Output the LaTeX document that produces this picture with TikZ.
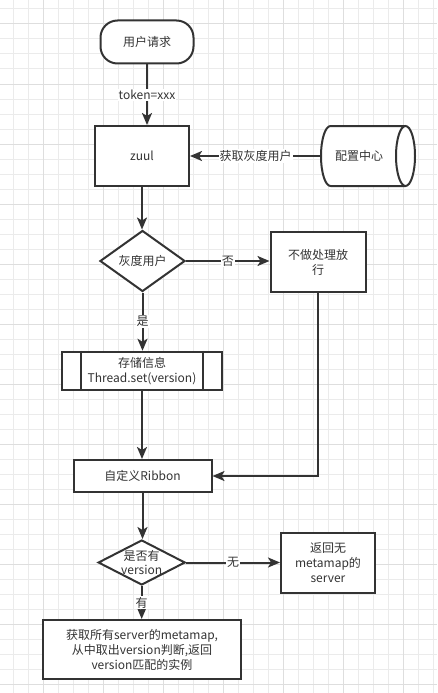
\documentclass[tikz,border=0pt]{standalone}
\usepackage{fontspec}
\setmainfont{Noto Sans CJK SC}
\usetikzlibrary{shapes.geometric,arrows.meta}
\definecolor{ink}{HTML}{333333}
\definecolor{gridminor}{HTML}{EBEBEB}
\definecolor{gridmajor}{HTML}{DEDEDE}
\begin{document}
\begin{tikzpicture}[x=1pt,y=-1pt,
  every node/.style={font=\fontsize{12}{15}\selectfont, text=ink, align=center, inner sep=0pt},
  box/.style={draw=ink, line width=2pt, fill=white, rectangle},
  dia/.style={draw=ink, line width=2pt, fill=white, diamond, aspect=1.4},
  conn/.style={draw=ink, line width=2pt, -{Stealth[length=12pt,width=10pt,inset=3pt]}},
  lbl/.style={fill=white, inner sep=1pt}
]
\useasboundingbox (0,0) rectangle (437,693);
\fill[white] (0,0) rectangle (437,693);
% grid
\foreach \x in {13,28,...,437} \draw[gridminor, line width=1pt] (\x,0) -- (\x,693);
\foreach \y in {9,24,...,693} \draw[gridminor, line width=1pt] (0,\y) -- (437,\y);
\foreach \x in {43,103,...,437} \draw[gridmajor, line width=1pt] (\x,0) -- (\x,693);
\foreach \y in {24,84,...,693} \draw[gridmajor, line width=1pt] (0,\y) -- (437,\y);

% nodes
\node[box, rounded corners=17pt, minimum width=93pt, minimum height=43pt] (req) at (147,42) {用户请求};
\node[box, minimum width=94pt, minimum height=60pt] (zuul) at (142,156) {zuul};
% cylinder
\fill[white] (330.5,126) -- (405.5,126) arc[start angle=90, end angle=-90, x radius=9.5, y radius=-30] -- (330.5,186) arc[start angle=270, end angle=90, x radius=9.5, y radius=-30] -- cycle;
\draw[ink, line width=2pt] (330.5,126) -- (405.5,126)
  (330.5,186) -- (405.5,186)
  (405.5,156) ellipse[x radius=9.5, y radius=30]
  (330.5,126) arc[start angle=90, end angle=270, x radius=9.5, y radius=-30];
\node[minimum width=95pt, minimum height=60pt] (cfgb) at (368,156) {};
\node (cfg) at (359,156) {配置中心};
\coordinate (cfgw) at (321,156);

\node[dia, minimum width=85pt, minimum height=61pt] (gray) at (142.5,261) {灰度用户};
\node[box, minimum width=95pt, minimum height=60pt] (pass) at (318,262) {不做处理放\\行};
\node[box, minimum width=160pt, minimum height=38.5pt] (store) at (142,371) {存储信息\\Thread.set(version)};
\draw[ink, line width=2pt] ([xshift=20pt]store.north west) -- ([xshift=20pt]store.south west)
  ([xshift=-20pt]store.north east) -- ([xshift=-20pt]store.south east);
\node[box, minimum width=138pt, minimum height=32pt] (rib) at (142.5,476) {自定义Ribbon};
\node[dia, minimum width=87pt, minimum height=45pt] (ver) at (141.7,562.5) {};
\node[align=center, font=\fontsize{12}{14}\selectfont] at (141.7,562.5) {是否有\\version};
\node[box, minimum width=94pt, minimum height=60pt] (noret) at (328,563) {返回无\\metamap的\\server};
\node[box, minimum width=198pt, minimum height=59pt] (final) at (142,649.5) {获取所有server的metamap,\\从中取出version判断,返回\\version匹配的实例};

% connectors
\draw[conn] (req.south) -- (req.south |- zuul.north) node[lbl, midway] {token=xxx};
\draw[conn] (cfgw) -- (zuul.east) node[lbl, pos=0.5] {获取灰度用户};
\draw[conn] (zuul.south) -- (zuul.south |- gray.north);
\draw[conn] (gray.east) -- (pass.west |- gray.east) node[lbl, midway] {否};
\draw[conn] (gray.south) -- (gray.south |- store.north) node[lbl, midway] {是};
\draw[conn] (store.south) -- (store.south |- rib.north);
\draw[conn] (pass.south) -- (pass.south |- rib.east) -- (rib.east);
\draw[conn] (rib.south) -- (rib.south |- ver.north);
\draw[conn] (ver.east) -- (noret.west |- ver.east) node[lbl, midway] {无};
\draw[conn] (ver.south) -- (ver.south |- final.north) node[lbl, midway] {有};
\end{tikzpicture}
\end{document}
